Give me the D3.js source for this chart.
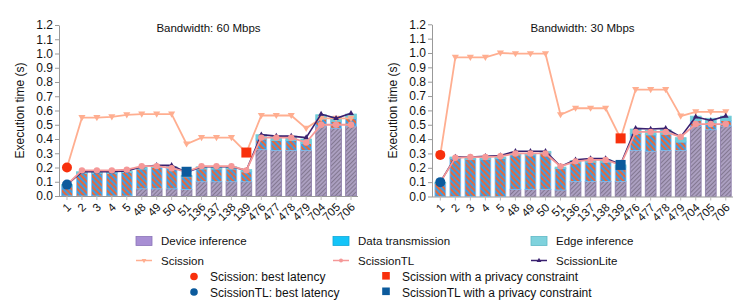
<!DOCTYPE html>
<html>
<head>
<meta charset="utf-8">
<script src="https://cdn.jsdelivr.net/npm/d3@7"></script>
<style>
  body { margin: 0; background: #fff; }
  svg text { font-family: "Liberation Sans", Arial, sans-serif; fill: #111; }
</style>
</head>
<body>
<svg id="chart" width="747" height="304"></svg>
<script>
var categories = ["1", "2", "3", "4", "5", "48", "49", "50", "51", "136", "137", "138", "139", "476", "477", "478", "479", "704", "705", "706"];
var yTicks = [0, 0.1, 0.2, 0.3, 0.4, 0.5, 0.6, 0.7, 0.8, 0.9, 1.0, 1.1, 1.2];

// 60 Mbps
var device60 = [0, 0, 0, 0, 0, 0.05, 0.05, 0.05, 0.045, 0.1, 0.1, 0.1, 0.1, 0.325, 0.32, 0.32, 0.32, 0.49, 0.475, 0.49];
var trans60 = [0.07, 0.16, 0.16, 0.16, 0.165, 0.14, 0.15, 0.145, 0.09, 0.09, 0.09, 0.09, 0.07, 0.075, 0.07, 0.07, 0.05, 0.05, 0.05, 0.055];
var edge60 = [0.01, 0.01, 0.01, 0.01, 0.01, 0.01, 0.01, 0.01, 0.01, 0.015, 0.015, 0.015, 0.015, 0.03, 0.03, 0.03, 0.03, 0.03, 0.03, 0.03];
var scission60 = [0.2, 0.55, 0.55, 0.555, 0.57, 0.575, 0.575, 0.575, 0.365, 0.41, 0.41, 0.41, 0.305, 0.565, 0.565, 0.565, 0.475, 0.545, 0.545, 0.545];
var scissionTL60 = [0.08, 0.18, 0.18, 0.18, 0.185, 0.21, 0.21, 0.195, 0.17, 0.21, 0.21, 0.21, 0.18, 0.41, 0.41, 0.41, 0.375, 0.5, 0.5, 0.5];
var scissionLite60 = [0.08, 0.17, 0.17, 0.17, 0.175, 0.205, 0.215, 0.215, 0.165, 0.205, 0.205, 0.205, 0.18, 0.43, 0.42, 0.42, 0.41, 0.575, 0.545, 0.58];

// 30 Mbps
var device30 = [0, 0, 0, 0, 0, 0.05, 0.05, 0.05, 0.045, 0.105, 0.105, 0.105, 0.105, 0.32, 0.315, 0.32, 0.32, 0.49, 0.465, 0.49];
var trans30 = [0.09, 0.265, 0.26, 0.26, 0.265, 0.24, 0.24, 0.255, 0.15, 0.13, 0.135, 0.135, 0.1, 0.12, 0.115, 0.115, 0.06, 0.04, 0.05, 0.04];
var edge30 = [0.01, 0.01, 0.01, 0.01, 0.01, 0.01, 0.01, 0.01, 0.01, 0.015, 0.015, 0.015, 0.015, 0.03, 0.03, 0.03, 0.03, 0.03, 0.03, 0.03];
var scission30 = [0.29, 0.97, 0.97, 0.97, 1.0, 0.995, 0.995, 0.995, 0.57, 0.615, 0.615, 0.615, 0.405, 0.745, 0.745, 0.745, 0.56, 0.59, 0.59, 0.59];
var scissionTL30 = [0.1, 0.27, 0.275, 0.275, 0.28, 0.3, 0.3, 0.3, 0.21, 0.245, 0.255, 0.255, 0.22, 0.45, 0.45, 0.45, 0.415, 0.505, 0.505, 0.505];
var scissionLite30 = [0.1, 0.275, 0.275, 0.28, 0.285, 0.315, 0.315, 0.315, 0.21, 0.255, 0.265, 0.265, 0.225, 0.475, 0.47, 0.475, 0.415, 0.555, 0.53, 0.56];

var cScission = "#ffae90", cTL = "#f59898", cLite = "#3a2170", cRed = "#f8300c", cBlue = "#0b5a9c";

var svg = d3.select("#chart");
var defs = svg.append("defs");

// hatch patterns
var pDev = defs.append("pattern").attr("id", "hDev").attr("patternUnits", "userSpaceOnUse")
    .attr("width", 3).attr("height", 3).attr("patternTransform", "rotate(45)");
pDev.append("rect").attr("width", 3).attr("height", 3).attr("fill", "#ab9fc0");
pDev.append("line").attr("x1", 0).attr("y1", 0).attr("x2", 0).attr("y2", 3).attr("stroke", "#6c6178").attr("stroke-width", 1.3);

var pTr = defs.append("pattern").attr("id", "hTr").attr("patternUnits", "userSpaceOnUse")
    .attr("width", 4).attr("height", 4).attr("patternTransform", "rotate(-45)");
pTr.append("rect").attr("width", 4).attr("height", 4).attr("fill", "#3a9fe6");
pTr.append("line").attr("x1", 1).attr("y1", 0).attr("x2", 1).attr("y2", 4).attr("stroke", "#e8683a").attr("stroke-width", 2);

function drawPanel(o) {
    var x = d3.scaleBand().domain(categories).range([o.x0, o.x1]).paddingInner(0.28).paddingOuter(0);
    var y = d3.scaleLinear().domain([0, 1.2]).range([o.yb, o.yt]);
    var g = svg.append("g");

    // stacked bars
    var rows = categories.map(function(c, i) {
        return { cat: c, device: o.device[i], trans: o.trans[i], edge: o.edge[i] };
    });
    var stack = d3.stack().keys(["device", "trans", "edge"])(rows);
    var fills = { device: "url(#hDev)", trans: "url(#hTr)", edge: "#6fcbd8" };
    var strokes = { device: "#8a7aa8", trans: "#7cc3f5", edge: "#6fcbd8" };
    stack.forEach(function(layer) {
        g.selectAll(null).data(layer).enter().append("rect")
            .attr("x", function(d) { return x(d.data.cat); })
            .attr("width", x.bandwidth())
            .attr("y", function(d) { return y(d[1]); })
            .attr("height", function(d) { return Math.max(0, y(d[0]) - y(d[1])); })
            .attr("fill", fills[layer.key])
            .attr("stroke", strokes[layer.key])
            .attr("stroke-width", 0.8);
    });

    // axes
    var xa = g.append("g").attr("transform", "translate(0," + o.yb + ")")
        .call(d3.axisBottom(x).tickSize(4).tickSizeOuter(0));
    xa.select(".domain").attr("stroke", "#999").attr("d", "M" + o.ax0 + ",0.5H" + o.ax1);
    xa.selectAll(".tick line").attr("stroke", "#bbb");
    xa.selectAll(".tick text")
        .attr("font-size", "11.5px")
        .attr("text-anchor", "end")
        .attr("x", 0).attr("y", 0)
        .attr("dx", 0).attr("dy", "0.35em")
        .attr("transform", "translate(2,9) rotate(-45)");

    var ya = g.append("g").attr("transform", "translate(" + o.ax0 + ",0)")
        .call(d3.axisLeft(y).tickValues(yTicks).tickFormat(d3.format(".1f")).tickSize(4).tickSizeOuter(0));
    ya.select(".domain").attr("stroke", "#999");
    ya.selectAll(".tick line").attr("stroke", "#999");
    ya.selectAll(".tick text").attr("font-size", "12px").attr("x", -6);

    g.append("text")
        .attr("transform", "translate(" + o.ylx + "," + ((o.yb + o.yt) / 2) + ") rotate(-90)")
        .attr("text-anchor", "middle").attr("font-size", "12px")
        .text("Execution time (s)");
    g.append("text")
        .attr("x", (o.ax0 + o.ax1) / 2).attr("y", 32)
        .attr("text-anchor", "middle").attr("font-size", "11.5px")
        .text(o.title);

    var cx = function(i) { return x(categories[i]) + x.bandwidth() / 2; };
    var line = function(vals) {
        return d3.line().x(function(d, i) { return cx(i); }).y(function(d) { return y(d); })(vals);
    };

    // Scission
    g.append("path").attr("d", line(o.scission)).attr("fill", "none").attr("stroke", cScission).attr("stroke-width", 1.8);
    g.selectAll(null).data(o.scission).enter().append("path")
        .attr("d", d3.symbol().type(d3.symbolTriangle).size(22))
        .attr("transform", function(d, i) { return "translate(" + cx(i) + "," + (y(d) - 0.5) + ") rotate(180)"; })
        .attr("fill", cScission);

    // ScissionLite
    g.append("path").attr("d", line(o.lite)).attr("fill", "none").attr("stroke", cLite).attr("stroke-width", 1.6);
    g.selectAll(null).data(o.lite).enter().append("path")
        .attr("d", d3.symbol().type(d3.symbolTriangle).size(14))
        .attr("transform", function(d, i) { return "translate(" + cx(i) + "," + y(d) + ")"; })
        .attr("fill", cLite);

    // ScissionTL
    g.append("path").attr("d", line(o.tl)).attr("fill", "none").attr("stroke", cTL).attr("stroke-width", 1.8);
    g.selectAll(null).data(o.tl).enter().append("circle")
        .attr("cx", function(d, i) { return cx(i); })
        .attr("cy", function(d) { return y(d); })
        .attr("r", 3.2).attr("fill", cTL);

    // highlighted points
    g.append("circle").attr("cx", cx(0)).attr("cy", y(o.scission[0])).attr("r", 5).attr("fill", cRed);
    g.append("circle").attr("cx", cx(0)).attr("cy", y(o.tl[0])).attr("r", 5).attr("fill", cBlue);
    g.append("rect").attr("x", cx(o.privS) - 5).attr("y", y(o.scission[o.privS]) - 5)
        .attr("width", 10).attr("height", 10).attr("fill", cRed);
    g.append("rect").attr("x", cx(o.privTL) - 5).attr("y", y(o.tl[o.privTL]) - 5)
        .attr("width", 10).attr("height", 10).attr("fill", cBlue);
}

drawPanel({
    x0: 61.6, x1: 356.4, ax0: 59, ax1: 358, yb: 196, yt: 25, ylx: 24,
    title: "Bandwidth: 60 Mbps",
    device: device60, trans: trans60, edge: edge60,
    scission: scission60, tl: scissionTL60, lite: scissionLite60,
    privS: 12, privTL: 8
});
drawPanel({
    x0: 434.9, x1: 731.2, ax0: 432, ax1: 733, yb: 196.5, yt: 24.3, ylx: 397,
    title: "Bandwidth: 30 Mbps",
    device: device30, trans: trans30, edge: edge30,
    scission: scission30, tl: scissionTL30, lite: scissionLite30,
    privS: 12, privTL: 12
});

// legend
var lg = svg.append("g").attr("font-size", "11.5px");
var boxes = [
    { x: 136, label: "Device inference", fill: "#a88fd4", stroke: "#8a74b8" },
    { x: 333, label: "Data transmission", fill: "#14c4f8", stroke: "#0fa8d8" },
    { x: 531, label: "Edge inference", fill: "#7fd2dd", stroke: "#5fb8c6" }
];
boxes.forEach(function(b) {
    lg.append("rect").attr("x", b.x).attr("y", 236.5).attr("width", 16).attr("height", 9)
        .attr("fill", b.fill).attr("stroke", b.stroke).attr("stroke-width", 0.8);
    lg.append("text").attr("x", b.x + 25).attr("y", 245).text(b.label);
});
var lines = [
    { x: 136, label: "Scission", color: cScission, mark: "tri" },
    { x: 333, label: "ScissionTL", color: cTL, mark: "circle" },
    { x: 531, label: "ScissionLite", color: cLite, mark: "triup" }
];
lines.forEach(function(l) {
    lg.append("line").attr("x1", l.x).attr("x2", l.x + 16).attr("y1", 260.5).attr("y2", 260.5)
        .attr("stroke", l.color).attr("stroke-width", 1.5);
    if (l.mark === "circle") {
        lg.append("circle").attr("cx", l.x + 8).attr("cy", 260.5).attr("r", 2).attr("fill", l.color);
    } else {
        lg.append("path").attr("d", d3.symbol().type(d3.symbolTriangle).size(10))
            .attr("transform", "translate(" + (l.x + 8) + ",260.5)" + (l.mark === "tri" ? " rotate(180)" : ""))
            .attr("fill", l.color);
    }
    lg.append("text").attr("x", l.x + 25).attr("y", 265).text(l.label);
});
var specials = [
    { x: 194, y: 276.5, shape: "circle", color: cRed, label: "Scission: best latency" },
    { x: 194, y: 292, shape: "circle", color: cBlue, label: "ScissionTL: best latency" },
    { x: 386, y: 276.5, shape: "square", color: cRed, label: "Scission with a privacy constraint" },
    { x: 386, y: 292, shape: "square", color: cBlue, label: "ScissionTL with a privacy constraint" }
];
specials.forEach(function(s) {
    if (s.shape === "circle") {
        lg.append("circle").attr("cx", s.x).attr("cy", s.y).attr("r", 3.8).attr("fill", s.color);
    } else {
        lg.append("rect").attr("x", s.x - 3.8).attr("y", s.y - 4.5).attr("width", 7.6).attr("height", 7.6).attr("fill", s.color);
    }
    lg.append("text").attr("x", s.x + 16).attr("y", s.y + 4.5).attr("font-size", "12px").text(s.label);
});
</script>
</body>
</html>
